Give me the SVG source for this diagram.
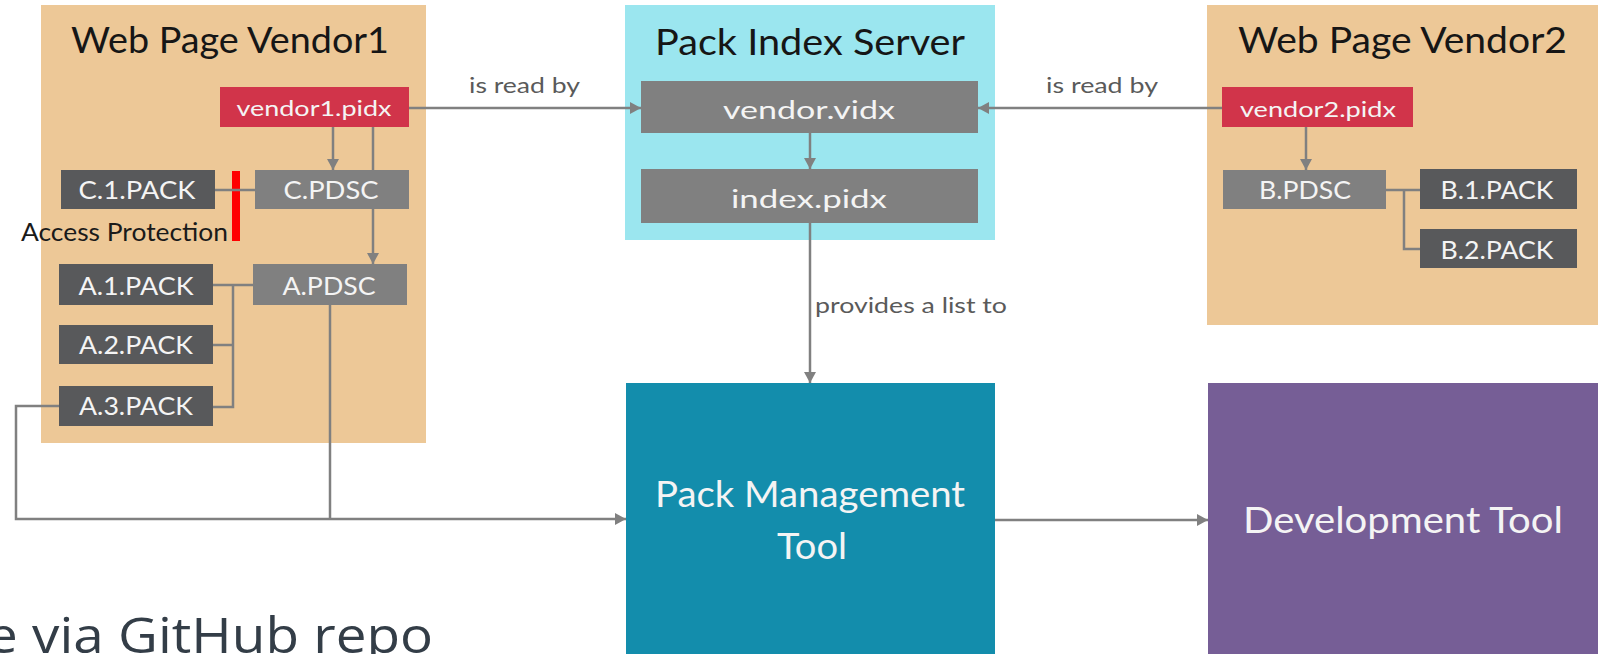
<svg xmlns="http://www.w3.org/2000/svg" width="1598" height="654" viewBox="0 0 1598 654">
<defs>
<style>
.vendor{fill:#EDC897}
.server{fill:#9BE6EF}
.mgmt{fill:#138DAC}
.dev{fill:#765E96}
.pidx{fill:#D1344A}
.pdsc{fill:#808080}
.pack{fill:#58595B}
.t{font-family:Lato,"Liberation Sans",sans-serif}
.title{font-size:37px;fill:#161616}
.lbl{font-size:25px;fill:#F4F4F4;text-anchor:middle}
.sm{font-size:21px;fill:#F4F4F4;text-anchor:middle}
.big{font-size:37px;fill:#F4F4F4;text-anchor:middle}
.edge{font-size:22px;fill:#5A5A5A}
.ln{fill:none;stroke:#808080;stroke-width:2.5}
.arr{marker-end:url(#ah)}
</style>
<marker id="ah" markerUnits="userSpaceOnUse" markerWidth="12" markerHeight="12" refX="11" refY="6" orient="auto">
<path d="M0,0 L11,6 L0,12 z" fill="#808080"/>
</marker>
</defs>
<rect width="1598" height="654" fill="#FFFFFF"/>

<g id="vendor1">
<rect class="vendor" x="41" y="5" width="385" height="438"/>
<text class="t title" x="71" y="53" textLength="318" lengthAdjust="spacingAndGlyphs">Web Page Vendor1</text>
</g>
<g id="server">
<rect class="server" x="625" y="5" width="370" height="235"/>
<text class="t title" x="655" y="55" textLength="310" lengthAdjust="spacingAndGlyphs">Pack Index Server</text>
</g>
<g id="vendor2">
<rect class="vendor" x="1207" y="5" width="391" height="320"/>
<text class="t title" x="1238" y="53" textLength="329" lengthAdjust="spacingAndGlyphs">Web Page Vendor2</text>
</g>
<g id="mgmt">
<rect class="mgmt" x="626" y="383" width="369" height="280"/>
<text class="t big" x="810" y="507" textLength="310" lengthAdjust="spacingAndGlyphs">Pack Management</text>
<text class="t big" x="812" y="559" textLength="70" lengthAdjust="spacingAndGlyphs">Tool</text>
</g>
<g id="dev">
<rect class="dev" x="1208" y="383" width="390" height="280"/>
<text class="t big" x="1403" y="533" textLength="320" lengthAdjust="spacingAndGlyphs">Development Tool</text>
</g>

<g id="vendor1-pidx">
<rect class="pidx" x="220" y="87" width="189" height="40"/>
<text class="t sm" x="314" y="116" textLength="155" lengthAdjust="spacingAndGlyphs">vendor1.pidx</text>
</g>
<g id="c-pdsc">
<rect class="pdsc" x="255" y="170" width="154" height="39"/>
<text class="t lbl" x="331" y="199" textLength="95" lengthAdjust="spacingAndGlyphs">C.PDSC</text>
</g>
<g id="c1-pack">
<rect class="pack" x="61" y="170" width="154" height="39"/>
<text class="t lbl" x="137" y="199" textLength="117" lengthAdjust="spacingAndGlyphs">C.1.PACK</text>
</g>
<g id="a-pdsc">
<rect class="pdsc" x="253" y="264" width="154" height="41"/>
<text class="t lbl" x="329" y="295" textLength="93" lengthAdjust="spacingAndGlyphs">A.PDSC</text>
</g>
<g id="a1-pack">
<rect class="pack" x="59" y="264" width="154" height="41"/>
<text class="t lbl" x="136" y="295" textLength="115" lengthAdjust="spacingAndGlyphs">A.1.PACK</text>
</g>
<g id="a2-pack">
<rect class="pack" x="59" y="325" width="154" height="39"/>
<text class="t lbl" x="136" y="354" textLength="114" lengthAdjust="spacingAndGlyphs">A.2.PACK</text>
</g>
<g id="a3-pack">
<rect class="pack" x="59" y="386" width="154" height="40"/>
<text class="t lbl" x="136" y="415" textLength="114" lengthAdjust="spacingAndGlyphs">A.3.PACK</text>
</g>
<g id="access-protection">
<rect x="232" y="171" width="8" height="70" fill="#FF0000"/>
<text class="t" x="21" y="241" font-size="25" fill="#1a1a1a" textLength="207" lengthAdjust="spacingAndGlyphs">Access Protection</text>
</g>

<g id="vendor-vidx">
<rect class="pdsc" x="641" y="81" width="337" height="52"/>
<text class="t lbl" x="809" y="119" font-size="27" textLength="172" lengthAdjust="spacingAndGlyphs">vendor.vidx</text>
</g>
<g id="index-pidx">
<rect class="pdsc" x="641" y="169" width="337" height="54"/>
<text class="t lbl" x="809" y="208" font-size="27" textLength="156" lengthAdjust="spacingAndGlyphs">index.pidx</text>
</g>

<g id="vendor2-pidx">
<rect class="pidx" x="1222" y="87" width="191" height="40"/>
<text class="t sm" x="1318" y="117" textLength="156" lengthAdjust="spacingAndGlyphs">vendor2.pidx</text>
</g>
<g id="b-pdsc">
<rect class="pdsc" x="1223" y="170" width="163" height="39"/>
<text class="t lbl" x="1305" y="199" textLength="92" lengthAdjust="spacingAndGlyphs">B.PDSC</text>
</g>
<g id="b1-pack">
<rect class="pack" x="1420" y="169" width="157" height="40"/>
<text class="t lbl" x="1497" y="199" textLength="113" lengthAdjust="spacingAndGlyphs">B.1.PACK</text>
</g>
<g id="b2-pack">
<rect class="pack" x="1420" y="229" width="157" height="39"/>
<text class="t lbl" x="1497" y="259" textLength="113" lengthAdjust="spacingAndGlyphs">B.2.PACK</text>
</g>

<g id="connectors">
<line class="ln arr" x1="409" y1="108" x2="641" y2="108"/>
<line class="ln arr" x1="1222" y1="108" x2="978" y2="108"/>
<line class="ln arr" x1="810" y1="133" x2="810" y2="169"/>
<line class="ln arr" x1="810" y1="223" x2="810" y2="383"/>
<line class="ln arr" x1="333" y1="127" x2="333" y2="170"/>
<line class="ln" x1="373" y1="127" x2="373" y2="170"/>
<line class="ln arr" x1="373" y1="209" x2="373" y2="264"/>
<line class="ln" x1="215" y1="190" x2="255" y2="190"/>
<polyline class="ln" points="213,285 253,285"/>
<polyline class="ln" points="233,285 233,407 213,407"/>
<line class="ln" x1="213" y1="345" x2="233" y2="345"/>
<polyline class="ln arr" points="59,406 16,406 16,519 626,519"/>
<line class="ln" x1="330" y1="305" x2="330" y2="519"/>
<line class="ln arr" x1="995" y1="520" x2="1208" y2="520"/>
<line class="ln arr" x1="1306" y1="127" x2="1306" y2="170"/>
<line class="ln" x1="1386" y1="190" x2="1420" y2="190"/>
<polyline class="ln" points="1404,190 1404,249 1420,249"/>
<text class="t edge" x="469" y="93" textLength="111" lengthAdjust="spacingAndGlyphs">is read by</text>
<text class="t edge" x="1046" y="93" textLength="112" lengthAdjust="spacingAndGlyphs">is read by</text>
<text class="t edge" x="815" y="313" textLength="192" lengthAdjust="spacingAndGlyphs">provides a list to</text>
</g>

<text x="-13" y="653" font-family="'Open Sans','Liberation Sans',sans-serif" font-size="49" fill="#333D47" textLength="446" lengthAdjust="spacingAndGlyphs">e via GitHub repo</text>
</svg>
